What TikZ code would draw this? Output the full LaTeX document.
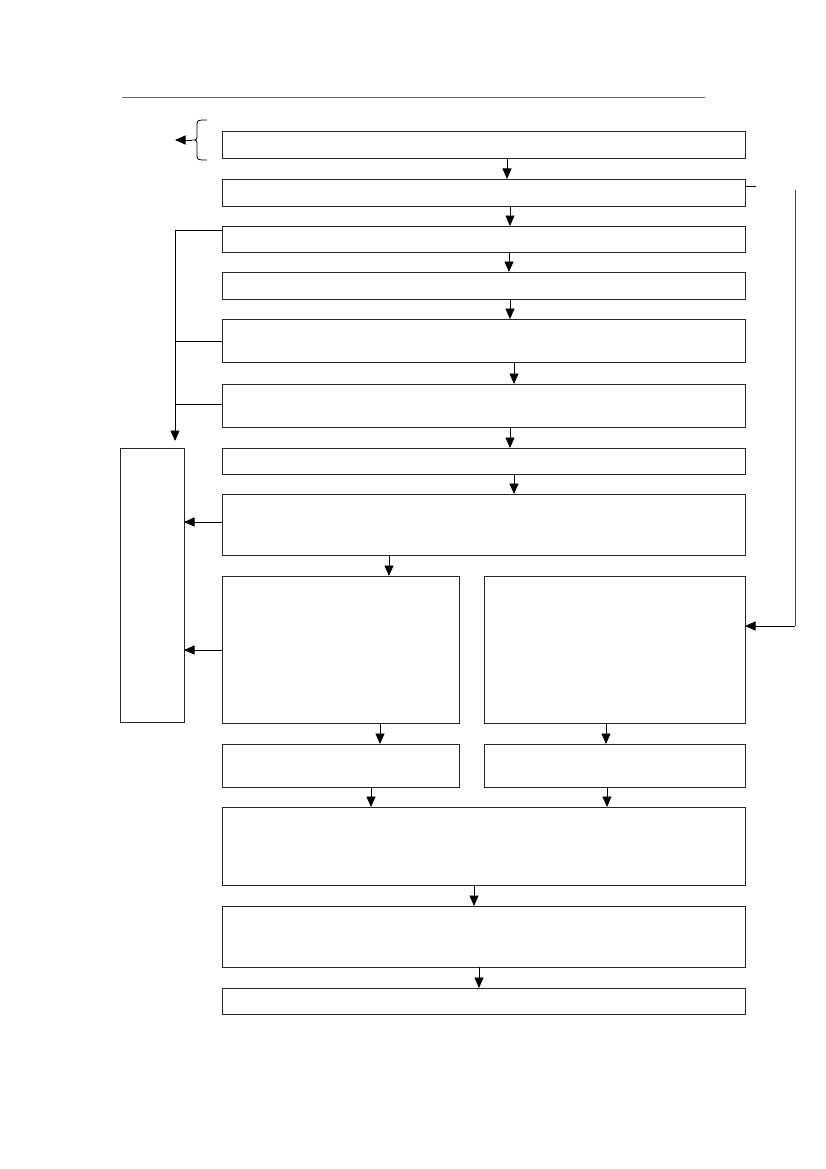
\documentclass[tikz,border=0pt]{standalone}
\usetikzlibrary{arrows.meta}
\begin{document}
\begin{tikzpicture}[x=1pt,y=-1pt,
  fbox/.style={draw=black!85,line width=0.8pt,inner sep=0pt,outer sep=0pt,rectangle},
  arr/.style={draw=black,line width=0.8pt,-{Triangle[length=10.5pt,width=9pt]}},
  ln/.style={draw=black,line width=0.8pt}]
\useasboundingbox (0,0) rectangle (826,1169);
% top rule
\coordinate (r1) at (122,97);
\coordinate (r2) at (705,97);
\draw[draw=black!60,line width=0.8pt] (r1) -- (r2);
% boxes
\node[fbox,minimum width=523pt,minimum height=27pt] (b1) at (483.5,144.5) {};
\node[fbox,minimum width=523pt,minimum height=27pt] (b2) at (483.5,192.5) {};
\node[fbox,minimum width=523pt,minimum height=26pt] (b3) at (483.5,239) {};
\node[fbox,minimum width=523pt,minimum height=27pt] (b4) at (483.5,285.5) {};
\node[fbox,minimum width=523pt,minimum height=43pt] (b5) at (483.5,340.5) {};
\node[fbox,minimum width=523pt,minimum height=43pt] (b6) at (483.5,405.5) {};
\node[fbox,minimum width=523pt,minimum height=26pt] (b7) at (483.5,461) {};
\node[fbox,minimum width=523pt,minimum height=61pt] (b8) at (483.5,524.5) {};
\node[fbox,minimum width=237pt,minimum height=147pt] (b9l) at (340.5,649.5) {};
\node[fbox,minimum width=261pt,minimum height=147pt] (b9r) at (614.5,649.5) {};
\node[fbox,minimum width=237pt,minimum height=43pt] (b10l) at (340.5,765.5) {};
\node[fbox,minimum width=261pt,minimum height=43pt] (b10r) at (614.5,765.5) {};
\node[fbox,minimum width=523pt,minimum height=78pt] (b11) at (483.5,846) {};
\node[fbox,minimum width=523pt,minimum height=61pt] (b12) at (483.5,936.5) {};
\node[fbox,minimum width=523pt,minimum height=26pt] (b13) at (483.5,1001) {};
\node[fbox,minimum width=64pt,minimum height=274pt] (lb) at (152,585) {};
% main vertical arrows
\draw[arr] (507,0 |- b1.south) -- (507,0 |- b2.north);
\draw[arr] (510,0 |- b2.south) -- (510,0 |- b3.north);
\draw[arr] (509,0 |- b3.south) -- (509,0 |- b4.north);
\draw[arr] (510,0 |- b4.south) -- (510,0 |- b5.north);
\draw[arr] (514,0 |- b5.south) -- (514,0 |- b6.north);
\draw[arr] (510,0 |- b6.south) -- (510,0 |- b7.north);
\draw[arr] (514,0 |- b7.south) -- (514,0 |- b8.north);
\draw[arr] (389,0 |- b8.south) -- (389,0 |- b9l.north);
\draw[arr] (380,0 |- b9l.south) -- (380,0 |- b10l.north);
\draw[arr] (606,0 |- b9r.south) -- (606,0 |- b10r.north);
\draw[arr] (371,0 |- b10l.south) -- (371,0 |- b11.north);
\draw[arr] (607,0 |- b10r.south) -- (607,0 |- b11.north);
\draw[arr] (474,0 |- b11.south) -- (474,0 |- b12.north);
\draw[arr] (479,0 |- b12.south) -- (479,0 |- b13.north);
% brace at box 1
\coordinate (bt) at (207,120);
\coordinate (bm) at (192,140);
\coordinate (bb) at (207,160);
\coordinate (btip) at (175,140);
\draw[ln] (bt) .. controls (197,120) .. (197,126) -- (197,134)
  .. controls (197,140) .. (bm) .. controls (197,140) .. (197,146)
  -- (197,154) .. controls (197,160) .. (bb);
\draw[arr] (bm) -- (btip);
% left collector line
\coordinate (lc3) at (175,230);
\coordinate (lc5) at (175,341);
\coordinate (lc6) at (175,404);
\coordinate (lcend) at (175,441);
\draw[ln] (b3.west |- lc3) -- (lc3);
\draw[ln] (b5.west |- lc5) -- (lc5);
\draw[ln] (b6.west |- lc6) -- (lc6);
\draw[arr] (lc3) -- (lcend);
% arrows into left box
\draw[arr] (b8.west |- 0,522) -- (lb.east |- 0,522);
\draw[arr] (b9l.west |- 0,650) -- (lb.east |- 0,650);
% right feedback
\coordinate (st) at (756,186);
\draw[ln] (b2.east |- st) -- (st);
\coordinate (rt) at (795,190);
\coordinate (rb) at (795,626);
\draw[draw=black!75,line width=0.8pt] (rt) -- (rb);
\draw[arr] (rb) -- (b9r.east |- rb);
\end{tikzpicture}
\end{document}
